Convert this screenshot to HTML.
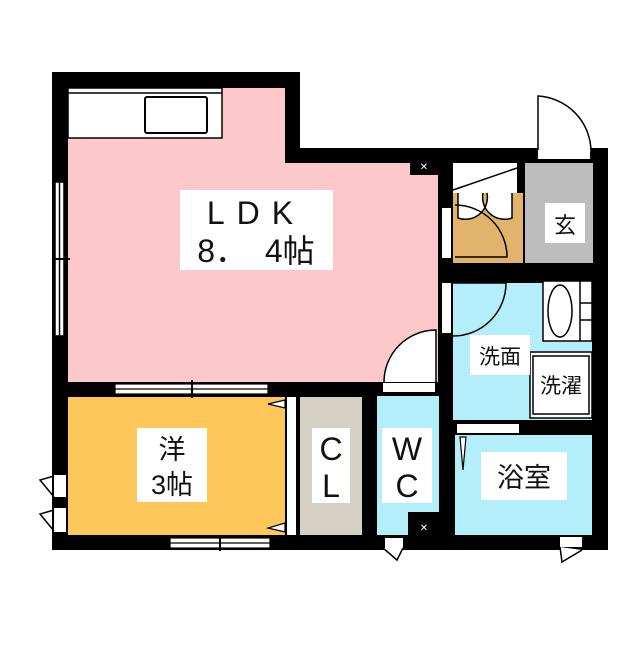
<!DOCTYPE html>
<html><head><meta charset="utf-8"><style>
body{margin:0;background:#fff}
svg text{font-family:"Liberation Sans","Noto Sans CJK JP",sans-serif;fill:#111}
</style></head><body>
<svg width="640" height="640" viewBox="0 0 640 640" xmlns="http://www.w3.org/2000/svg">
<rect width="640" height="640" fill="#fff"/>
<rect x="52" y="72" width="248" height="320" fill="#000"/>
<rect x="52" y="148" width="556" height="402" fill="#000"/>
<rect x="68" y="88" width="217" height="80" fill="#fdc8c9"/>
<rect x="68" y="163" width="370" height="219" fill="#fdc8c9"/>
<rect x="410" y="148" width="28" height="27" fill="#000"/>
<text x="424" y="170" font-size="10" text-anchor="middle" style="fill:#fff">✕</text>
<rect x="68" y="88" width="154" height="50" fill="#fff" stroke="#000" stroke-width="1.5"/>
<line x1="68" y1="93" x2="222" y2="93" stroke="#000" stroke-width="1.5"/>
<rect x="145" y="97" width="62" height="36" rx="2" fill="#fff" stroke="#000" stroke-width="2"/>
<rect x="55" y="182" width="9" height="154" fill="#fff" stroke="#000" stroke-width="1.5"/>
<line x1="59.5" y1="182" x2="59.5" y2="336" stroke="#000" stroke-width="1.5"/>
<line x1="52" y1="259" x2="70" y2="259" stroke="#000" stroke-width="2"/>
<rect x="453" y="163" width="64" height="30" fill="#fff"/>
<line x1="453" y1="190" x2="517" y2="168" stroke="#000" stroke-width="1.5"/>
<rect x="453" y="193" width="70" height="70" fill="#e2b36a"/>
<path d="M458 193 V218 A22 22 0 0 0 487 193 M512 193 V218 A22 22 0 0 1 483 193" fill="#fff" stroke="#000" stroke-width="1.5"/>
<path d="M455 205 A52 52 0 0 1 507 257 H455" fill="none" stroke="#000" stroke-width="1.5"/>
<rect x="442" y="208" width="9" height="50" fill="#fff"/>
<rect x="525" y="163" width="68" height="100" fill="#bdbdbd"/>
<rect x="545" y="203" width="40" height="40" fill="#fff"/>
<text x="565" y="233" font-size="22" text-anchor="middle">玄</text>
<path d="M538 152 V96 A56 56 0 0 1 591 152" fill="#fff" stroke="#000" stroke-width="1.5"/>
<rect x="538" y="150" width="52" height="9" fill="#fff"/>
<rect x="453" y="283" width="139" height="137" fill="#b4eefb"/>
<path d="M453 283 H506 A53 53 0 0 1 453 336" fill="none" stroke="#000" stroke-width="1.5"/>
<rect x="442" y="283" width="9" height="50" fill="#fff"/>
<rect x="543" y="281" width="49" height="60" fill="#fff" stroke="#000" stroke-width="1.5"/>
<ellipse cx="560" cy="311" rx="12" ry="26" fill="#fff" stroke="#000" stroke-width="1.5"/>
<line x1="580" y1="281" x2="580" y2="341" stroke="#000" stroke-width="1.5"/>
<line x1="580" y1="303" x2="592" y2="303" stroke="#000" stroke-width="1.5"/>
<line x1="580" y1="320" x2="592" y2="320" stroke="#000" stroke-width="1.5"/>
<rect x="530" y="352" width="62" height="66" fill="#fff" stroke="#000" stroke-width="1.5"/>
<rect x="533" y="356" width="56" height="58" fill="#fff" stroke="#000" stroke-width="1.5"/>
<text x="561" y="393" font-size="21" text-anchor="middle">洗濯</text>
<rect x="470" y="335" width="60" height="40" fill="#fff"/>
<text x="500" y="364" font-size="21" text-anchor="middle">洗面</text>
<rect x="455" y="435" width="137" height="100" fill="#b4eefb"/>
<rect x="457" y="424" width="62" height="9" fill="#fff"/>
<path d="M460 437 L463 470 L466 437 Z" fill="#fff" stroke="#000" stroke-width="1.2"/>
<rect x="481" y="452" width="86" height="48" fill="#fff"/>
<text x="524" y="487" font-size="27" text-anchor="middle">浴室</text>
<rect x="560" y="537" width="22" height="10" fill="#fff"/>
<path d="M560 547 L562 562 L582 550" fill="#fff" stroke="#000" stroke-width="1.5"/>
<rect x="377" y="396" width="62" height="139" fill="#b4eefb"/>
<rect x="408" y="512" width="31" height="23" fill="#000"/>
<text x="424" y="531" font-size="10" text-anchor="middle" style="fill:#fff">✕</text>
<rect x="382" y="428" width="50" height="75" fill="#fff"/>
<text x="407" y="460" font-size="32" text-anchor="middle">W</text>
<text x="407" y="497" font-size="32" text-anchor="middle">C</text>
<path d="M384 382 A52 52 0 0 1 436 330 V382" fill="#fff" stroke="#000" stroke-width="1.5"/>
<rect x="383" y="383" width="52" height="9" fill="#fff"/>
<rect x="385" y="538" width="18" height="10" fill="#fff"/>
<path d="M383 548 L397 560 L403 548" fill="#fff" stroke="#000" stroke-width="1.5"/>
<rect x="300" y="397" width="62" height="138" fill="#d4d0c4"/>
<rect x="312" y="428" width="38" height="75" fill="#fff"/>
<text x="331" y="460" font-size="32" text-anchor="middle">C</text>
<text x="331" y="497" font-size="32" text-anchor="middle">L</text>
<rect x="68" y="397" width="217" height="138" fill="#fdc75c"/>
<rect x="287" y="397" width="9" height="138" fill="#fff"/>
<path d="M285 400 L268 404 L285 408 Z M285 523 L268 528 L285 532 Z" fill="#fff" stroke="#000" stroke-width="1.2"/>
<rect x="137" y="428" width="70" height="74" fill="#fff"/>
<text x="172" y="459" font-size="27" text-anchor="middle">洋</text>
<text x="172" y="494" font-size="27" text-anchor="middle">3帖</text>
<rect x="115" y="384" width="153" height="10" fill="#fff" stroke="#000" stroke-width="1.2"/>
<line x1="115" y1="389" x2="268" y2="389" stroke="#000" stroke-width="1.2"/>
<line x1="192" y1="380" x2="192" y2="398" stroke="#000" stroke-width="2"/>
<rect x="170" y="538" width="100" height="10" fill="#fff" stroke="#000" stroke-width="1.2"/>
<line x1="170" y1="543" x2="270" y2="543" stroke="#000" stroke-width="1.2"/>
<line x1="220" y1="535" x2="220" y2="551" stroke="#000" stroke-width="2"/>
<rect x="54" y="475" width="12" height="22" fill="#fff"/>
<rect x="54" y="508" width="12" height="24" fill="#fff"/>
<path d="M54 476 L40 480 L54 497 M54 510 L40 514 L54 531" fill="none" stroke="#000" stroke-width="1.5"/>
<rect x="180" y="190" width="153" height="80" fill="#fff"/>
<text x="256" y="224" font-size="32" text-anchor="middle" letter-spacing="12">LDK</text>
<text x="256" y="262" font-size="32" text-anchor="middle" xml:space="preserve">8．  4帖</text>
</svg>
</body></html>
